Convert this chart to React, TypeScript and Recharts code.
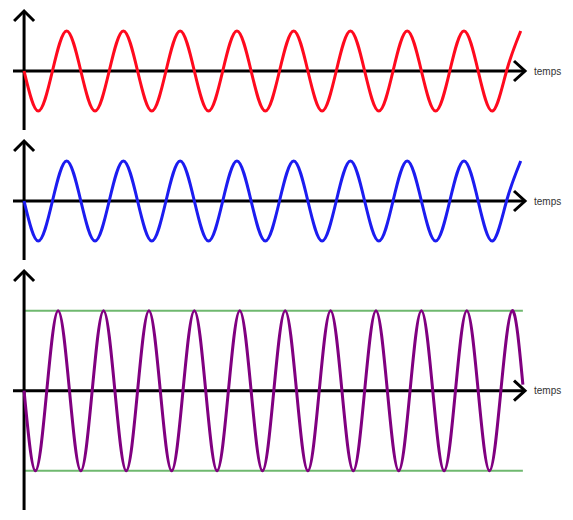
import { LineChart, Line, XAxis, YAxis, ReferenceLine } from "recharts";

// ─── Data (time in quarter periods of the top wave) ─────────────────────────

const RED_T = [
  0, 1, 2, 3, 4, 5, 6, 7, 8, 9, 10, 11, 12, 13, 14, 15, 16, 17, 18, 19, 20,
  21, 22, 23, 24, 25, 26, 27, 28, 29, 30, 31, 32, 33, 34, 35,
];
const RED_V = [
  0, -1, 0, 1, 0, -1, 0, 1, 0, -1, 0, 1, 0, -1, 0, 1, 0, -1, 0, 1, 0, -1, 0,
  1, 0, -1, 0, 1, 0, -1, 0, 1, 0, -1, 0, 1,
];
const BLUE_V = [
  0, -1, 0, 1, 0, -1, 0, 1, 0, -1, 0, 1, 0, -1, 0, 1, 0, -1, 0, 1, 0, -1, 0,
  1, 0, -1, 0, 1, 0, -1, 0, 1, 0, -1, 0, 1,
];

const PURPLE_T = [
  0, 0.8, 1.6, 2.4, 3.2, 4, 4.8, 5.6, 6.4, 7.2, 8, 8.8, 9.6, 10.4, 11.2, 12,
  12.8, 13.6, 14.4, 15.2, 16, 16.8, 17.6, 18.4, 19.2, 20, 20.8, 21.6, 22.4,
  23.2, 24, 24.8, 25.6, 26.4, 27.2, 28, 28.8, 29.6, 30.4, 31.2, 32, 32.8,
  33.6, 34.4, 35.15,
];
const PURPLE_V = [
  0, -2, 0, 2, 0, -2, 0, 2, 0, -2, 0, 2, 0, -2, 0, 2, 0, -2, 0, 2, 0, -2, 0,
  2, 0, -2, 0, 2, 0, -2, 0, 2, 0, -2, 0, 2, 0, -2, 0, 2, 0, -2, 0, 2, 0.15,
];

const LIMITS = [2, -2];
const AXIS_LABEL = "temps";

const X_DOMAIN: [number, number] = [-0.78, 35.3];

const redData = RED_T.map((t, i) => ({ t, v: RED_V[i] }));
const blueData = RED_T.map((t, i) => ({ t, v: BLUE_V[i] }));
const purpleData = PURPLE_T.map((t, i) => ({ t, v: PURPLE_V[i] }));

// ─── Axis shapes with arrowheads ────────────────────────────────────────────

type LineProps = { x1?: number; y1?: number; x2?: number; y2?: number };

function TimeAxis(props: LineProps) {
  const { x1 = 0, y1 = 0, x2 = 0 } = props;
  return (
    <g>
      <line x1={x1} y1={y1} x2={x2} y2={y1} stroke="#000" strokeWidth={3} />
      <polyline
        points={`${x2 - 11},${y1 - 10} ${x2},${y1} ${x2 - 11},${y1 + 10}`}
        fill="none"
        stroke="#000"
        strokeWidth={3}
      />
      <text
        x={x2 + 9}
        y={y1 + 3.5}
        fontSize={10}
        fontFamily="Liberation Sans, Arial, sans-serif"
        fill="#333"
      >
        {AXIS_LABEL}
      </text>
    </g>
  );
}

function ValueAxis(props: LineProps) {
  const { x1 = 0, y1 = 0, y2 = 0 } = props;
  const top = Math.min(y1, y2);
  const bottom = Math.max(y1, y2);
  return (
    <g>
      <line x1={x1} y1={top} x2={x1} y2={bottom} stroke="#000" strokeWidth={3} />
      <polyline
        points={`${x1 - 10},${top + 10} ${x1},${top} ${x1 + 10},${top + 10}`}
        fill="none"
        stroke="#000"
        strokeWidth={3}
      />
    </g>
  );
}

// ─── Panel ───────────────────────────────────────────────────────────────────

function Panel({
  data,
  color,
  height,
  yDomain,
  limits,
}: {
  data: { t: number; v: number }[];
  color: string;
  height: number;
  yDomain: [number, number];
  limits?: number[];
}) {
  return (
    <LineChart
      width={573}
      height={height}
      data={data}
      margin={{ top: 11, right: 48, left: 13, bottom: 1 }}
    >
      <XAxis type="number" dataKey="t" domain={X_DOMAIN} hide allowDataOverflow />
      <YAxis type="number" domain={yDomain} hide allowDataOverflow />
      {limits?.map((l) => (
        <ReferenceLine
          key={l}
          segment={[
            { x: 0.07, y: l },
            { x: 35.15, y: l },
          ]}
          stroke="#6fb86f"
          strokeWidth={2}
        />
      ))}
      <ReferenceLine y={0} shape={(p: LineProps) => <TimeAxis {...p} />} />
      <ReferenceLine x={0} shape={(p: LineProps) => <ValueAxis {...p} />} />
      <Line
        type="natural"
        dataKey="v"
        stroke={color}
        strokeWidth={3}
        dot={false}
        isAnimationActive={false}
      />
    </LineChart>
  );
}

export default function App() {
  return (
    <div style={{ position: "absolute", left: 0, top: 0, width: 573, height: 520, background: "#fff" }}>
      <div style={{ position: "absolute", left: 0, top: 0 }}>
        <Panel data={redData} color="#ff0a1e" height={131} yDomain={[-1.475, 1.5]} />
      </div>
      <div style={{ position: "absolute", left: 0, top: 130 }}>
        <Panel data={blueData} color="#1c1cf0" height={131} yDomain={[-1.475, 1.5]} />
      </div>
      <div style={{ position: "absolute", left: 0, top: 260 }}>
        <Panel
          data={purpleData}
          color="#800080"
          height={251}
          yDomain={[-2.98, 2.99]}
          limits={LIMITS}
        />
      </div>
    </div>
  );
}
